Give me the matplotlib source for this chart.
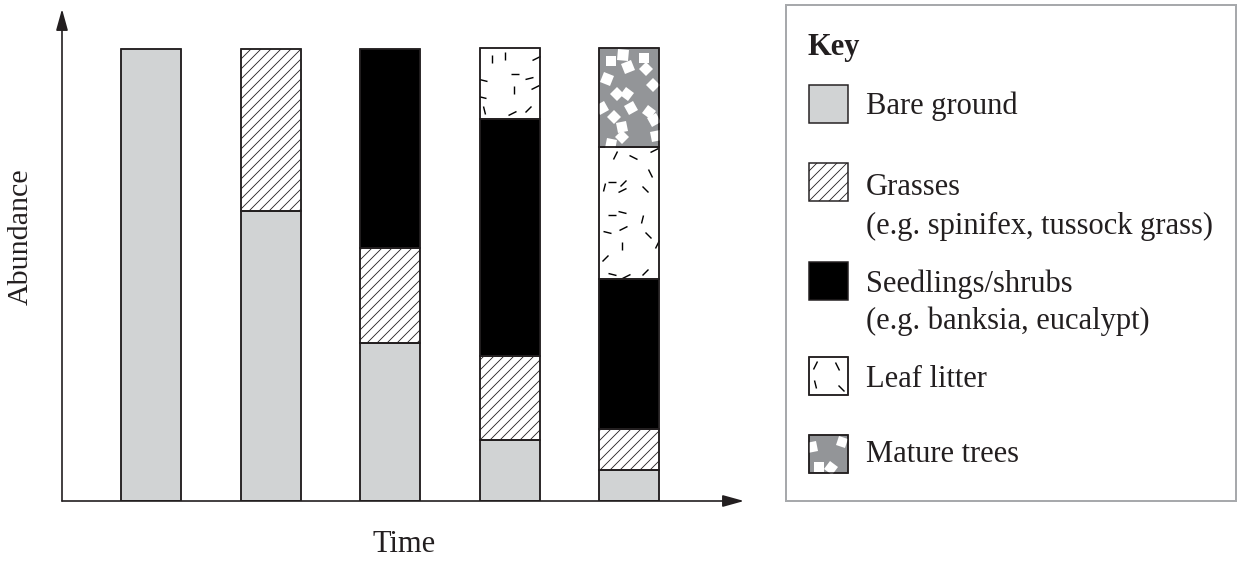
import numpy as np
import matplotlib
matplotlib.use('Agg')
import matplotlib.pyplot as plt
from matplotlib.patches import Rectangle, FancyArrowPatch, ArrowStyle
from matplotlib.markers import MarkerStyle
from matplotlib.transforms import Affine2D

plt.rcParams['font.family'] = ['Liberation Serif', 'DejaVu Serif']
plt.rcParams['hatch.linewidth'] = 0.5
plt.rcParams['hatch.color'] = '#231f20'

# ---------------- data ----------------
stages = [0, 1, 2, 3, 4]
categories = ['Bare ground', 'Grasses', 'Seedlings/shrubs', 'Leaf litter', 'Mature trees']
bare_ground = [100.0, 64.1, 34.9, 13.5, 6.9]
grasses = [0.0, 35.9, 21.0, 18.6, 9.1]
seedlings_shrubs = [0.0, 0.0, 44.1, 52.3, 33.1]
leaf_litter = [0.0, 0.0, 0.0, 15.7, 29.1]
mature_trees = [0.0, 0.0, 0.0, 0.0, 21.9]
legend_lines = [['Bare ground'],
                ['Grasses', '(e.g. spinifex, tussock grass)'],
                ['Seedlings/shrubs', '(e.g. banksia, eucalypt)'],
                ['Leaf litter'],
                ['Mature trees']]
x_label = 'Time'
y_label = 'Abundance'
key_title = 'Key'

series = [bare_ground, grasses, seedlings_shrubs, leaf_litter, mature_trees]

# ---------------- styles ----------------
EDGE = '#231f20'
styles = [
    dict(fc='#d1d3d4', hatch=None, tex=None),
    dict(fc='white', hatch='////', tex=None),
    dict(fc='black', hatch=None, tex=None),
    dict(fc='white', hatch=None, tex='litter'),
    dict(fc='#939598', hatch=None, tex='trees'),
]

DPI = 120
W, H = 1240, 563
fig = plt.figure(figsize=(W / DPI, H / DPI), dpi=DPI)
fig.patch.set_facecolor('white')

# main axes in pixel placement
ax_l, ax_r, ax_b, ax_t = 62, 744, 501, 9
ax = fig.add_axes([ax_l / W, (H - ax_b) / H, (ax_r - ax_l) / W, (ax_b - ax_t) / H])
ax.set_xlim(-0.747, 4.96)
ax.set_ylim(0, 100 / ((ax_b - 48.5) / (ax_b - ax_t)))
for s in ax.spines.values():
    s.set_visible(False)
ax.set_xticks([])
ax.set_yticks([])
ax.patch.set_alpha(0)

rng = np.random.default_rng(11)


def add_texture(a, patch, kind):
    bb = patch.get_window_extent()
    inv = a.transData.inverted()
    if kind == 'litter':
        step = 18.5
    else:
        step = 17.5
    nx = max(1, int(round(bb.width / step)))
    ny = max(1, int(round(bb.height / step)))
    sx = bb.width / nx
    sy = bb.height / ny
    for i in range(nx):
        for j in range(ny):
            px = bb.x0 + (i + 0.5) * sx + rng.uniform(-0.4, 0.4) * sx
            py = bb.y0 + (j + 0.5) * sy + rng.uniform(-0.4, 0.4) * sy
            dx, dy = inv.transform((px, py))
            ang = rng.uniform(0, 180)
            if kind == 'litter':
                m = MarkerStyle('_', transform=Affine2D().rotate_deg(ang))
                ln, = a.plot([dx], [dy], linestyle='none', marker=m,
                             ms=5.2, mew=0.85, color='black', zorder=3)
            else:
                m = MarkerStyle('s', transform=Affine2D().rotate_deg(ang))
                ln, = a.plot([dx], [dy], linestyle='none', marker=m,
                             ms=6.2, mew=0, color='white', zorder=3)
            ln.set_clip_path(patch)


bottoms = np.zeros(len(stages))
for vals, st in zip(series, styles):
    vals = np.asarray(vals)
    bars = ax.bar(stages, vals, width=0.505, bottom=bottoms, color=st['fc'],
                  edgecolor=EDGE, linewidth=0.9, hatch=st['hatch'], zorder=2)
    for b, v in zip(bars, vals):
        if v <= 0:
            b.set_visible(False)
    if st['tex'] is not None:
        for b, v in zip(bars, vals):
            if v > 0:
                add_texture(ax, b, st['tex'])
    bottoms = bottoms + vals

# redraw bar outlines on top of textures
bottoms = np.zeros(len(stages))
for vals in series:
    vals = np.asarray(vals)
    bars = ax.bar(stages, vals, width=0.505, bottom=bottoms, fill=False,
                  edgecolor=EDGE, linewidth=0.9, zorder=4)
    for b, v in zip(bars, vals):
        if v <= 0:
            b.set_visible(False)
    bottoms = bottoms + vals

# axis arrows
astyle = ArrowStyle('-|>', head_length=10.8, head_width=3.0)
for end in [(0, 1), (1, 0)]:
    arr = FancyArrowPatch((0, 0), end, transform=ax.transAxes, arrowstyle=astyle,
                          mutation_scale=1, shrinkA=0, shrinkB=0, color=EDGE,
                          linewidth=1.0, clip_on=False, zorder=5)
    ax.add_patch(arr)

# ---------------- overlay (labels + key) ----------------
ov = fig.add_axes([0, 0, 1, 1])
ov.set_xlim(0, W)
ov.set_ylim(H, 0)
ov.axis('off')
ov.patch.set_alpha(0)

ov.text(21, 237, y_label, rotation=90, ha='center', va='center', fontsize=18.0, color='#231f20')
ov.text(404, 551.5, x_label, ha='center', va='baseline', fontsize=18.3, color='#231f20')

# key box
ov.add_patch(Rectangle((786, 5), 450, 496, fill=False, edgecolor='#a7a9ac', linewidth=1.2))
ov.text(808, 55, key_title, fontweight='bold', fontsize=18.3, ha='left', va='baseline', color='#231f20')

sw_y = [85, 163, 262, 357, 435]
sw_h = 37.5
text_baselines = [[114], [195, 234], [292, 329], [387], [462]]
for k, st in enumerate(styles):
    r = Rectangle((809, sw_y[k]), 38.5, sw_h, facecolor=st['fc'], edgecolor=EDGE,
                  linewidth=0.9, hatch=st['hatch'], zorder=2)
    ov.add_patch(r)
    if st['tex'] is not None:
        add_texture(ov, r, st['tex'])
        ov.add_patch(Rectangle((809, sw_y[k]), 38.5, sw_h, fill=False, edgecolor=EDGE,
                               linewidth=0.9, zorder=4))
    for line, yb in zip(legend_lines[k], text_baselines[k]):
        ov.text(866, yb, line, fontsize=18.3, ha='left', va='baseline', color='#231f20')

fig.savefig('out.png', dpi=DPI, facecolor='white')
